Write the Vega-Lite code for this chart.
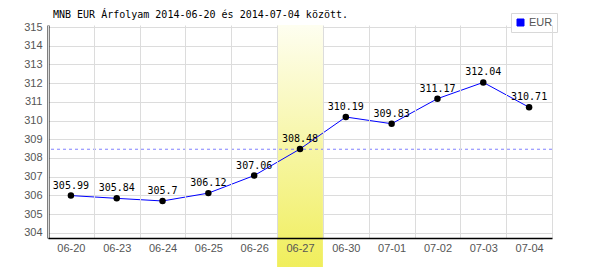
{
  "$schema": "https://vega.github.io/schema/vega-lite/v6.json",
  "width": 504,
  "height": 213,
  "autosize": {"type": "none"},
  "padding": {"left": 48, "top": 25, "right": 48, "bottom": 32},
  "background": "white",
  "title": {
    "text": "MNB EUR Árfolyam 2014-06-20 és 2014-07-04 között.",
    "anchor": "start",
    "frame": "group",
    "font": "DejaVu Sans Mono",
    "fontSize": 10,
    "fontWeight": "normal",
    "color": "black",
    "baseline": "alphabetic",
    "dx": 5,
    "dy": 15,
    "offset": 0
  },
  "config": {
    "view": {"stroke": null}
  },
  "data": {
    "values": [
      {"date": "06-20", "rate": 305.99, "currency": "EUR"},
      {"date": "06-23", "rate": 305.84, "currency": "EUR"},
      {"date": "06-24", "rate": 305.7, "currency": "EUR"},
      {"date": "06-25", "rate": 306.12, "currency": "EUR"},
      {"date": "06-26", "rate": 307.06, "currency": "EUR"},
      {"date": "06-27", "rate": 308.48, "currency": "EUR"},
      {"date": "06-30", "rate": 310.19, "currency": "EUR"},
      {"date": "07-01", "rate": 309.83, "currency": "EUR"},
      {"date": "07-02", "rate": 311.17, "currency": "EUR"},
      {"date": "07-03", "rate": 312.04, "currency": "EUR"},
      {"date": "07-04", "rate": 310.71, "currency": "EUR"}
    ]
  },
  "encoding": {
    "x": {
      "field": "date",
      "type": "ordinal",
      "scale": {"type": "band", "paddingInner": 0, "paddingOuter": 0},
      "axis": {
        "title": null,
        "labelAngle": 0,
        "grid": true,
        "tickBand": "extent",
        "ticks": false,
        "domainColor": "black",
        "domainWidth": 1.5,
        "labelFont": "Liberation Sans",
        "labelFontSize": 11,
        "labelColor": "#555555",
        "labelPadding": 4,
        "gridColor": "#dcdcdc",
        "zindex": 2
      }
    },
    "y": {
      "field": "rate",
      "type": "quantitative",
      "scale": {"domain": [303.72, 315.11], "nice": false, "zero": false},
      "axis": {
        "title": null,
        "values": [304, 305, 306, 307, 308, 309, 310, 311, 312, 313, 314, 315],
        "ticks": false,
        "grid": true,
        "gridColor": "#dcdcdc",
        "domainColor": "black",
        "domainWidth": 2,
        "labelFont": "Liberation Sans",
        "labelFontSize": 11,
        "labelColor": "#555555",
        "labelPadding": 6,
        "zindex": 0
      }
    }
  },
  "layer": [
    {
      "transform": [{"filter": {"field": "date", "equal": "06-27"}}],
      "mark": {
        "type": "rect",
        "clip": false,
        "color": {
          "gradient": "linear",
          "x1": 0, "y1": 0, "x2": 0, "y2": 1,
          "stops": [
            {"offset": 0, "color": "#fefef0"},
            {"offset": 1, "color": "#f0ee5c"}
          ]
        }
      },
      "encoding": {
        "y": {"datum": 315.11, "type": "quantitative"},
        "y2": {"datum": 302.17}
      }
    },
    {
      "mark": {"type": "rule", "strokeDash": [3, 3], "color": "#8080ff", "strokeWidth": 1},
      "encoding": {
        "x": null,
        "y": {"aggregate": "mean", "field": "rate", "type": "quantitative"}
      }
    },
    {
      "mark": {"type": "line", "strokeWidth": 1},
      "encoding": {
        "color": {
          "field": "currency",
          "type": "nominal",
          "scale": {"range": ["#0000ff"]},
          "legend": {
            "orient": "none",
            "legendX": 463,
            "legendY": -12,
            "title": null,
            "strokeColor": "#d8d8d8",
            "fillColor": "white",
            "padding": 4,
            "cornerRadius": 0,
            "symbolType": "square",
            "symbolSize": 49,
            "labelFont": "Liberation Sans",
            "labelFontSize": 11,
            "labelColor": "#555555",
            "labelOffset": 3,
            "encode": {
              "symbols": {
                "update": {
                  "fill": {"value": "#0000ff"},
                  "stroke": {"value": "#555555"},
                  "strokeWidth": {"value": 1}
                }
              }
            }
          }
        }
      }
    },
    {
      "mark": {"type": "circle", "size": 42, "color": "black", "opacity": 1}
    },
    {
      "mark": {"type": "text", "dy": -7, "baseline": "alphabetic", "font": "DejaVu Sans Mono", "fontSize": 10, "color": "black"},
      "encoding": {"text": {"field": "rate", "type": "nominal"}}
    }
  ]
}
